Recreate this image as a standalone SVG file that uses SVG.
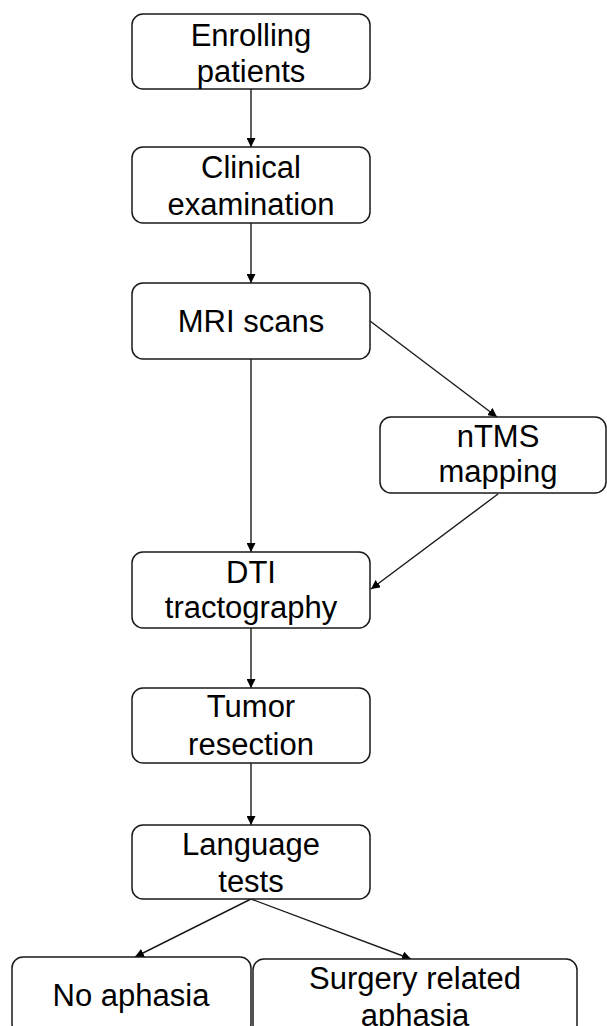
<svg xmlns="http://www.w3.org/2000/svg" width="607" height="1026" viewBox="0 0 607 1026">
<defs>
<style>
.box{fill:#fff;stroke:#1a1a1a;stroke-width:1.5}
.t{font-family:"Liberation Sans",Arial,sans-serif;font-size:31px;fill:#000;text-anchor:middle}
.c{stroke:#1a1a1a;stroke-width:1.4;fill:none}
</style>
<marker id="ah" viewBox="0 0 10 10" refX="10" refY="5" markerWidth="9" markerHeight="9" markerUnits="userSpaceOnUse" orient="auto">
<path d="M0,0 L10,5 L0,10 z" fill="#000"/>
</marker>
</defs>
<rect width="607" height="1026" fill="#fff"/>
<g id="connectors">
<line class="c" x1="251" y1="89" x2="251" y2="147" marker-end="url(#ah)"/>
<line class="c" x1="251" y1="223" x2="251" y2="283" marker-end="url(#ah)"/>
<line class="c" x1="251" y1="359" x2="251" y2="552" marker-end="url(#ah)"/>
<line class="c" x1="370" y1="321" x2="497" y2="417" marker-end="url(#ah)"/>
<line class="c" x1="498" y1="494" x2="371" y2="589" marker-end="url(#ah)"/>
<line class="c" x1="251" y1="628" x2="251" y2="688" marker-end="url(#ah)"/>
<line class="c" x1="251" y1="763" x2="251" y2="825" marker-end="url(#ah)"/>
<line class="c" x1="251" y1="899" x2="135" y2="957" marker-end="url(#ah)"/>
<line class="c" x1="251" y1="899" x2="411" y2="959" marker-end="url(#ah)"/>
</g>
<g id="enrolling">
<rect class="box" x="132" y="14" width="238" height="75" rx="11"/>
<text class="t" x="251" y="46">Enrolling</text>
<text class="t" x="251" y="82">patients</text>
</g>
<g id="clinical">
<rect class="box" x="132" y="147" width="238" height="76" rx="11"/>
<text class="t" x="251" y="178">Clinical</text>
<text class="t" x="251" y="215">examination</text>
</g>
<g id="mri">
<rect class="box" x="132" y="283" width="238" height="76" rx="11"/>
<text class="t" x="251" y="332">MRI scans</text>
</g>
<g id="ntms">
<rect class="box" x="380" y="417" width="226" height="76" rx="11"/>
<text class="t" x="498" y="447">nTMS</text>
<text class="t" x="498" y="482">mapping</text>
</g>
<g id="dti">
<rect class="box" x="132" y="552" width="238" height="76" rx="11"/>
<text class="t" x="251" y="583">DTI</text>
<text class="t" x="251" y="618">tractography</text>
</g>
<g id="tumor">
<rect class="box" x="132" y="688" width="238" height="75" rx="11"/>
<text class="t" x="251" y="717">Tumor</text>
<text class="t" x="251" y="755">resection</text>
</g>
<g id="language">
<rect class="box" x="132" y="825" width="238" height="74" rx="11"/>
<text class="t" x="251" y="855">Language</text>
<text class="t" x="251" y="892">tests</text>
</g>
<g id="noaphasia">
<rect class="box" x="12" y="957" width="239" height="78" rx="11"/>
<text class="t" x="131" y="1006">No aphasia</text>
</g>
<g id="surgery">
<rect class="box" x="253" y="959" width="324" height="78" rx="11"/>
<text class="t" x="415" y="989">Surgery related</text>
<text class="t" x="415" y="1026">aphasia</text>
</g>
</svg>
